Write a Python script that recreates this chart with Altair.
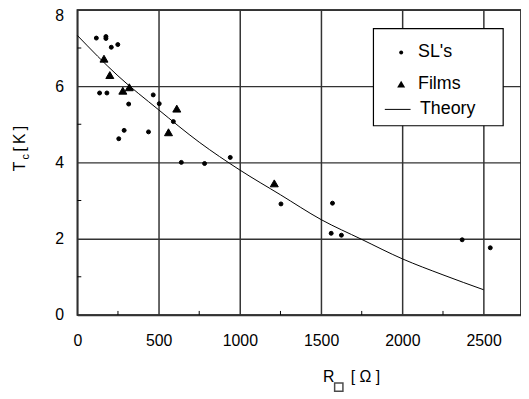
import altair as alt
import pandas as pd

# ---- data ----
sl_r = [117, 176, 176, 209, 249, 137, 182, 316, 467, 504, 591, 288, 438, 255,
        640, 783, 941, 1253, 1570, 1562, 1625, 2368, 2541]
sl_tc = [7.26, 7.30, 7.25, 7.02, 7.09, 5.82, 5.82, 5.53, 5.77, 5.54, 5.07, 4.84,
         4.80, 4.62, 4.00, 3.97, 4.13, 2.91, 2.93, 2.14, 2.09, 1.97, 1.76]

films_r = [164, 200, 280, 320, 612, 561, 1212]
films_tc = [6.72, 6.29, 5.88, 5.97, 5.41, 4.79, 3.45]

theory_r = [0, 250, 500, 750, 1000, 1250, 1500, 1750, 2000, 2250, 2500]
theory_tc = [7.33, 6.27, 5.38, 4.53, 3.80, 3.15, 2.50, 1.98, 1.47, 1.05, 0.66]

point_series = ["SL's", "Films"]
line_series = ["Theory"]
x_ticks = [0, 500, 1000, 1500, 2000, 2500]
y_ticks = [0, 2, 4, 6, 8]
x_minor = [250, 750, 1250, 1750, 2250]
y_minor = [1, 3, 5, 7]

FONT = "Liberation Sans"

pts = pd.DataFrame({
    "R": sl_r + films_r,
    "Tc": sl_tc + films_tc,
    "series": ["SL's"] * len(sl_r) + ["Films"] * len(films_r),
})
theory = pd.DataFrame({"R": theory_r, "Tc": theory_tc,
                       "series": line_series * len(theory_r)})
xminor_df = pd.DataFrame({"R": x_minor})
yminor_df = pd.DataFrame({"Tc": y_minor})
one = pd.DataFrame({"k": [0]})

xscale = alt.Scale(domain=[0, 2730], nice=False, zero=False)
yscale = alt.Scale(domain=[0, 8], nice=False)

x_axis = alt.Axis(values=x_ticks, title=None, grid=True, gridColor="#333333",
                  gridWidth=1.5, ticks=False, domain=False, labelFontSize=16,
                  labelFont=FONT, labelColor="black", labelPadding=18,
                  labelFlush=False, format="d")
y_axis = alt.Axis(values=y_ticks, title=None, grid=True, gridColor="#333333",
                  gridWidth=1.5, ticks=False, domain=False, labelFontSize=16,
                  labelFont=FONT, labelColor="black", labelPadding=14,
                  labelOffset={"condition": {"test": "datum.value == 8", "value": 6},
                               "value": 0})

X = alt.X("R:Q", scale=xscale, axis=x_axis)
Y = alt.Y("Tc:Q", scale=yscale, axis=y_axis)

leg_pts = alt.Legend(title=None, orient="none", legendX=318, legendY=34,
                     direction="vertical", labelFont=FONT, labelFontSize=18,
                     labelColor="black", labelOffset=8, padding=0,
                     rowPadding=14, symbolStrokeColor="black",
                     symbolFillColor="black", symbolOpacity=1)
leg_line = alt.Legend(title=None, orient="none", legendX=310, legendY=87,
                      direction="vertical", labelFont=FONT, labelFontSize=18,
                      labelColor="black", labelOffset=9, padding=0,
                      symbolType="stroke", symbolSize=676,
                      symbolStrokeWidth=1, symbolStrokeColor="black")

# legend frame (white box behind the legend entries)
legend_box = alt.Chart(one).mark_rect(fill="white", stroke="black",
                                      strokeWidth=1.2).encode(
    x=alt.value(299), x2=alt.value(430), y=alt.value(19), y2=alt.value(117))

theory_line = alt.Chart(theory).mark_line(
    strokeWidth=1, interpolate="monotone").encode(
    x=X, y=Y,
    color=alt.Color("series:N", scale=alt.Scale(domain=line_series, range=["black"]),
                    legend=leg_line))

points = alt.Chart(pts).mark_point(
    filled=True, opacity=1, fill="black", stroke="black", strokeWidth=1).encode(
    x=X, y=Y,
    shape=alt.Shape("series:N", scale=alt.Scale(
        domain=point_series, range=["circle", "triangle-up"]), legend=leg_pts),
    size=alt.Size("series:N", scale=alt.Scale(
        domain=point_series, range=[16, 65]), legend=leg_pts),
)

xminor = alt.Chart(xminor_df).mark_rule(color="black", strokeWidth=1).encode(
    x=X, y=alt.value(308), y2=alt.value(304))
yminor = alt.Chart(yminor_df).mark_rule(color="black", strokeWidth=1).encode(
    y=Y, x=alt.value(0), x2=alt.value(4))

def txt(s, x, y, size=16, angle=0, align="left"):
    return alt.Chart(one).mark_text(
        font=FONT, fontSize=size, angle=angle, align=align,
        baseline="middle", color="black").encode(
        x=alt.value(x), y=alt.value(y), text=alt.value(s))

y_t = txt("T", -58, 163, angle=270)
y_c = txt("c", -52, 151, size=11, angle=270)
y_k = txt("[\u2009K\u2009]", -58, 143, angle=270)

x_r = txt("R", 248, 371)
x_box = alt.Chart(one).mark_point(shape="square", filled=False, color="black",
                                  strokeWidth=1.5, size=70).encode(
    x=alt.value(264), y=alt.value(381))
x_o = txt("[ \u03a9 ]", 276, 371)

chart = alt.layer(
    theory_line, xminor, yminor, points, legend_box,
    y_t, y_c, y_k, x_r, x_box, x_o
).resolve_legend(shape="independent", size="independent", color="independent").properties(
    width=448, height=308,
    autosize=alt.AutoSizeParams(type="none"),
    padding={"left": 70, "top": 0, "right": 0, "bottom": 80},
    background="white",
).configure_view(stroke="black", strokeWidth=1.5)

chart.save("out.html", embed_options={"renderer": "svg", "actions": False})
